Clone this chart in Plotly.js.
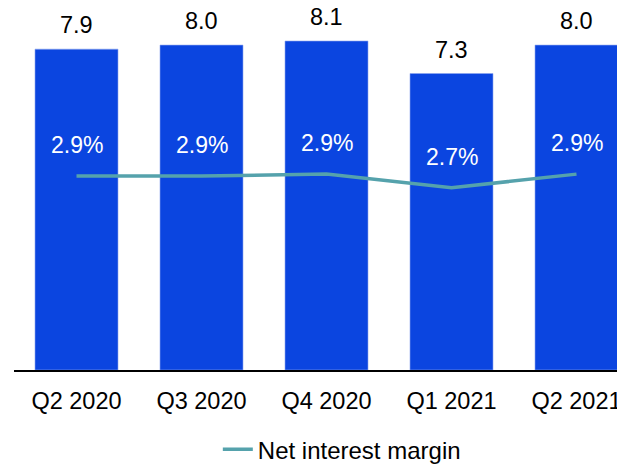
<!DOCTYPE html>
<html>
<head>
<meta charset="utf-8">
<script src="https://cdn.plot.ly/plotly-3.0.1.min.js"></script>
<style>html,body{margin:0;padding:0;background:#fff;}#chart{width:617px;height:465px;}</style>
</head>
<body>
<div id="chart"></div>
<script>
const quarters = ["Q2 2020", "Q3 2020", "Q4 2020", "Q1 2021", "Q2 2021"];
const netInterestIncome = [7.9, 8.0, 8.1, 7.3, 8.0];
const netInterestMargin = [2.88, 2.88, 2.91, 2.70, 2.91];
const marginLabels = ["2.9%", "2.9%", "2.9%", "2.7%", "2.9%"];

const FONT = '"Liberation Sans", Arial, sans-serif';

const bars = {
  type: 'bar',
  x: quarters,
  y: netInterestIncome,
  marker: {color: '#0B45E0', line: {color: '#8FA6EE', width: 0.6}},
  showlegend: false,
  hoverinfo: 'skip'
};
const line = {
  type: 'scatter',
  mode: 'lines',
  x: quarters,
  y: netInterestMargin,
  yaxis: 'y2',
  name: 'Net interest margin',
  line: {color: '#55A2AC', width: 3.5},
  hoverinfo: 'skip'
};

const annotations = [];
quarters.forEach((q, i) => {
  annotations.push({
    x: q, y: netInterestIncome[i], xref: 'x', yref: 'y',
    text: netInterestIncome[i].toFixed(1), showarrow: false,
    yanchor: 'bottom', yshift: 9,
    font: {family: FONT, size: 23.5, color: '#000'}
  });
  annotations.push({
    x: q, y: netInterestMargin[i], xref: 'x', yref: 'y2',
    text: marginLabels[i], showarrow: false,
    yanchor: 'middle', yshift: 31,
    font: {family: FONT, size: 23, color: '#fff'}
  });
});

const layout = {
  width: 617, height: 465,
  margin: {l: 14, r: 0, t: 0, b: 95, pad: 0},
  paper_bgcolor: '#fff', plot_bgcolor: '#fff',
  font: {family: FONT, size: 24, color: '#000'},
  bargap: 0.336,
  xaxis: {
    range: [-0.5, 4.324], showgrid: false, zeroline: false,
    showline: true, linecolor: '#000', linewidth: 1.5, ticks: '',
    ticklabelstandoff: 9,
    tickfont: {family: FONT, size: 23.5, color: '#000'}, fixedrange: true
  },
  yaxis: {range: [0, 9.11], visible: false, fixedrange: true},
  yaxis2: {range: [-0.105, 5.59], overlaying: 'y', side: 'right', visible: false, fixedrange: true},
  showlegend: true,
  legend: {
    orientation: 'h', xref: 'container', yref: 'container',
    x: 0.554, y: 0.033, xanchor: 'center', yanchor: 'middle',
    font: {family: FONT, size: 24, color: '#000'}, bgcolor: 'rgba(0,0,0,0)'
  },
  annotations: annotations
};

Plotly.newPlot('chart', [bars, line], layout, {staticPlot: true, displayModeBar: false});
</script>
</body>
</html>
